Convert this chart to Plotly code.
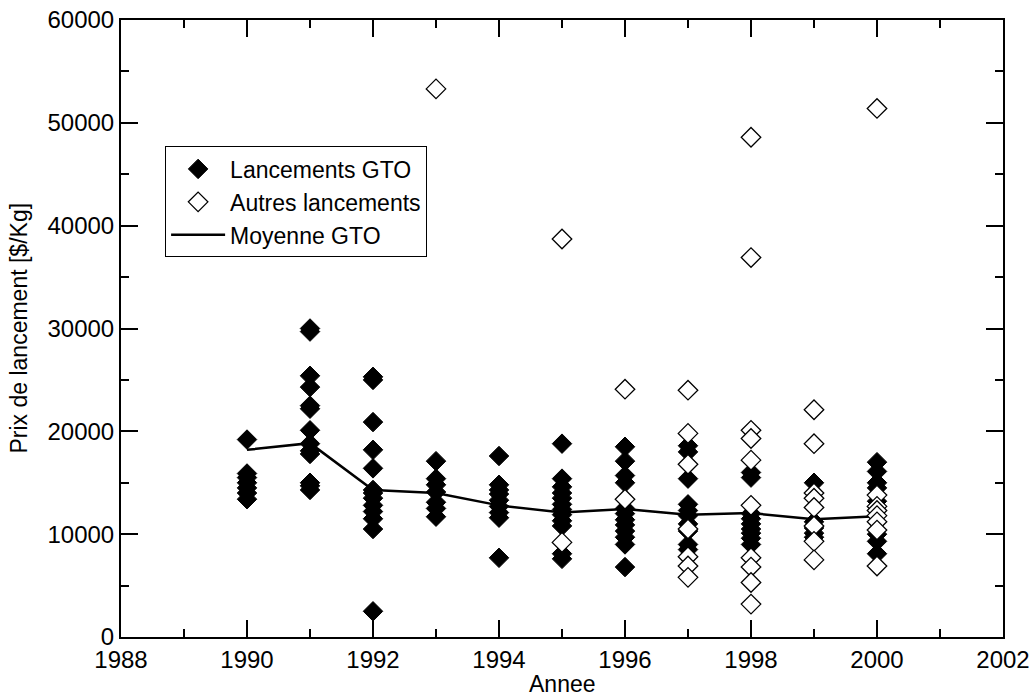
import plotly.graph_objects as go

# --- data ---
gto_year = ([1990]*7 + [1991]*13 + [1992]*13 + [1993]*7 + [1994]*9 + [1995]*12 +
            [1996]*12 + [1997]*10 + [1998]*9 + [1999]*5 + [2000]*8)
gto_price = [
    19200, 15900, 15500, 15000, 14500, 14000, 13400,
    30000, 29700, 25400, 24300, 22500, 22200, 20100, 18800, 18100, 17800, 15000, 14700, 14300,
    25300, 25000, 20900, 18200, 16400, 14300, 14000, 13500, 12800, 12200, 11500, 10500, 2500,
    17100, 15400, 14800, 14100, 13100, 12500, 11700,
    17600, 14800, 14300, 13900, 13300, 12700, 12100, 11600, 7700,
    18800, 15400, 14600, 14000, 13500, 12900, 12400, 11900, 11300, 10800, 8100, 7600,
    18500, 17100, 15700, 15000, 12500, 12000, 11400, 10900, 10300, 9700, 9000, 6800,
    18600, 18000, 15400, 12900, 12300, 11800, 11000, 10300, 9000, 8500,
    16000, 15500, 12000, 11500, 11000, 10500, 10100, 9600, 9000,
    15000, 11200, 10600, 10100, 9700,
    17000, 16100, 15000, 14500, 13200, 10000, 9300, 8100,
]

other_year = ([1993]*1 + [1995]*2 + [1996]*2 + [1997]*7 + [1998]*10 + [1999]*8 + [2000]*8)
other_price = [
    53300,
    38700, 9200,
    24100, 13400,
    24000, 19800, 16800, 10500, 7800, 6900, 5800,
    48600, 36900, 20100, 19300, 17200, 12800, 7700, 6800, 5300, 3200,
    22100, 18800, 14000, 13500, 12600, 10800, 9300, 7500,
    51400, 13800, 12700, 12300, 11800, 11200, 10400, 6900,
]

mean_year = [1990, 1991, 1992, 1993, 1994, 1995, 1996, 1997, 1998, 1999, 2000]
mean_price = [18200, 18850, 14300, 14000, 12800, 12100, 12450, 11900, 12050, 11450, 11750]

x_title = "Annee"
y_title = "Prix de lancement [$/Kg]"

FONT = "Liberation Sans, Arial, sans-serif"

fig = go.Figure()
fig.add_trace(go.Scatter(
    x=mean_year, y=mean_price, mode="lines", name="Moyenne GTO",
    line=dict(color="black", width=2.5), legendrank=3))
fig.add_trace(go.Scatter(
    x=gto_year, y=gto_price, mode="markers", name="Lancements GTO",
    marker=dict(symbol="diamond", size=15, color="black",
                line=dict(color="black", width=1)), legendrank=1))
fig.add_trace(go.Scatter(
    x=other_year, y=other_price, mode="markers", name="Autres lancements",
    marker=dict(symbol="diamond", size=15, color="white",
                line=dict(color="black", width=1.3)), legendrank=2))

fig.update_layout(
    width=1034, height=696,
    margin=dict(l=121, r=31, t=20, b=59),
    paper_bgcolor="white", plot_bgcolor="white",
    font=dict(family=FONT, size=24, color="black"),
    showlegend=True,
    legend=dict(x=0.05, y=0.795, xanchor="left", yanchor="top",
                bordercolor="black", borderwidth=1, bgcolor="white",
                font=dict(size=23), tracegroupgap=0, itemwidth=54),
    annotations=[
        dict(text=x_title, xref="paper", yref="paper", x=0.5, y=0, yshift=-47,
             xanchor="center", yanchor="middle", showarrow=False, font=dict(size=23)),
        dict(text=y_title, xref="paper", yref="paper", x=0, y=0.5, xshift=-103,
             xanchor="center", yanchor="middle", textangle=-90, showarrow=False,
             font=dict(size=23)),
    ],
)
fig.update_xaxes(
    range=[1988, 2002], dtick=2, tick0=1988, ticks="inside", ticklen=17, tickwidth=1.5,
    tickcolor="black", showline=True, linecolor="black", linewidth=2, mirror="allticks",
    showgrid=False, zeroline=False, automargin=False, tickformat="d",
    minor=dict(dtick=1, ticks="inside", ticklen=8, tickwidth=1.5, tickcolor="black", showgrid=False),
)
fig.update_yaxes(
    range=[0, 60000], dtick=10000, ticks="inside", ticklen=17, tickwidth=1.5,
    tickcolor="black", showline=True, linecolor="black", linewidth=2, mirror="allticks",
    showgrid=False, zeroline=False, automargin=False, tickformat="d",
    minor=dict(dtick=5000, ticks="inside", ticklen=8, tickwidth=1.5, tickcolor="black", showgrid=False),
)

fig.write_html("out.html", config={"displayModeBar": False},
               post_script="document.body.style.margin='0';")
